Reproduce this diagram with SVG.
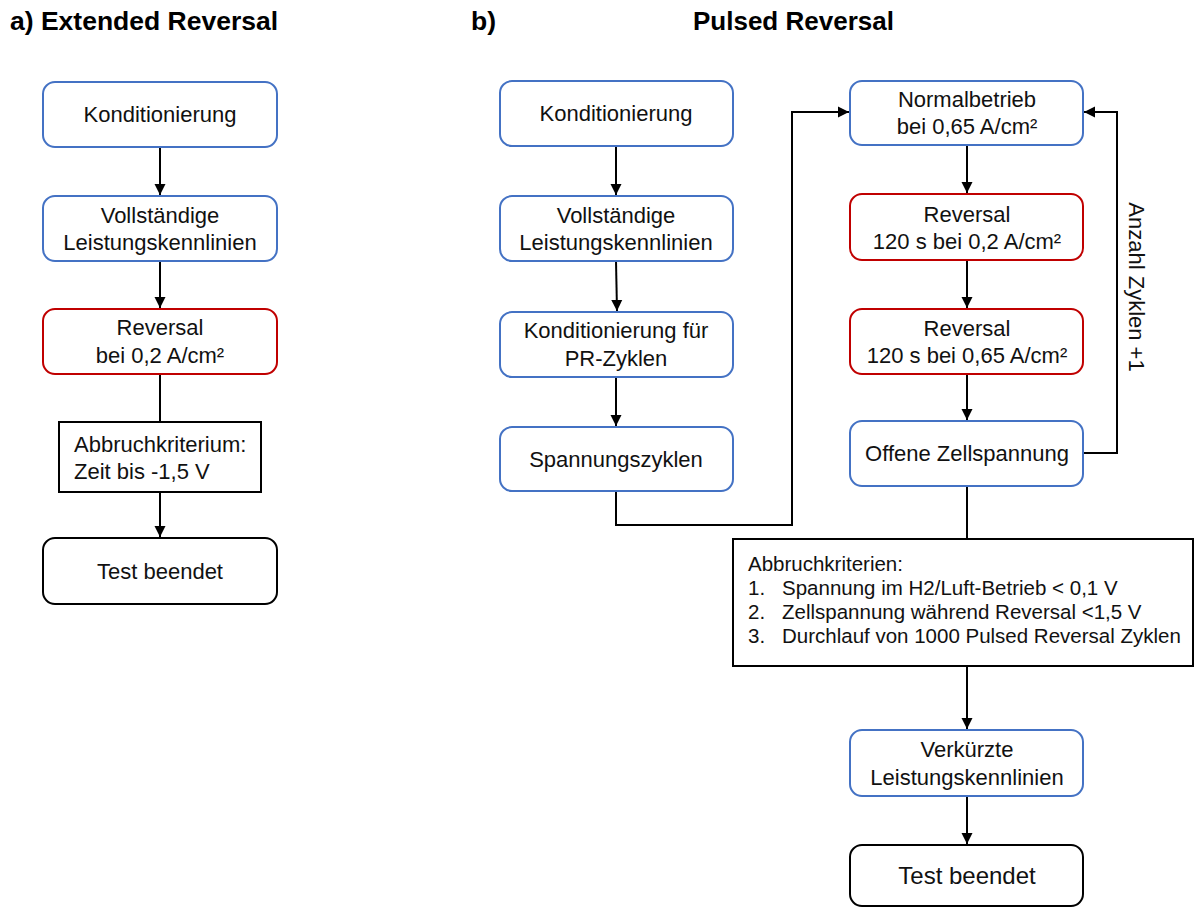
<svg xmlns="http://www.w3.org/2000/svg" width="1195" height="908" viewBox="0 0 1195 908">
<defs>
<marker id="arr" viewBox="0 0 10 10" refX="10" refY="5" markerWidth="11" markerHeight="12" markerUnits="userSpaceOnUse" orient="auto">
<path d="M0,0 L10,5 L0,10 z" fill="#000"/>
</marker>
<style>
.t{font-family:"Liberation Sans",Arial,sans-serif;font-size:22px;fill:#111;text-anchor:middle}
.l{font-family:"Liberation Sans",Arial,sans-serif;font-size:20.5px;fill:#111}
.h{font-family:"Liberation Sans",Arial,sans-serif;font-size:26.5px;font-weight:bold;fill:#000}
.blue{fill:#fff;stroke:#4472C4;stroke-width:2}
.red{fill:#fff;stroke:#C00000;stroke-width:2}
.blk{fill:#fff;stroke:#000;stroke-width:2}
.c{fill:none;stroke:#000;stroke-width:2}
</style>
</defs>
<rect width="1195" height="908" fill="#fff"/>
<text class="h" x="10" y="30">a) Extended Reversal</text>
<text class="h" x="471" y="30">b)</text>
<text class="h" x="693" y="30" style="font-size:26px">Pulsed Reversal</text>

<g id="connectors">
<line class="c" x1="160" y1="147" x2="160" y2="195" marker-end="url(#arr)"/>
<line class="c" x1="160" y1="261" x2="160" y2="308" marker-end="url(#arr)"/>
<line class="c" x1="160" y1="374" x2="160" y2="422"/>
<line class="c" x1="160" y1="492" x2="160" y2="537" marker-end="url(#arr)"/>
<line class="c" x1="616" y1="146" x2="616" y2="195" marker-end="url(#arr)"/>
<line class="c" x1="616" y1="261" x2="617" y2="311" marker-end="url(#arr)"/>
<line class="c" x1="616" y1="377" x2="616" y2="426" marker-end="url(#arr)"/>
<path class="c" d="M616,491 V525 H792 V112 H849" marker-end="url(#arr)"/>
<line class="c" x1="967" y1="145" x2="967" y2="193" marker-end="url(#arr)"/>
<line class="c" x1="967" y1="260" x2="967" y2="308" marker-end="url(#arr)"/>
<line class="c" x1="967" y1="374" x2="967" y2="420" marker-end="url(#arr)"/>
<path class="c" d="M1083,453 H1117 V112 H1084" marker-end="url(#arr)"/>
<line class="c" x1="967" y1="486" x2="967" y2="539"/>
<line class="c" x1="967" y1="666" x2="967" y2="729" marker-end="url(#arr)"/>
<line class="c" x1="967" y1="796" x2="967" y2="844" marker-end="url(#arr)"/>
<text class="t" transform="translate(1129,287) rotate(90)">Anzahl Zyklen +1</text>
</g>

<g id="a_kond"><rect class="blue" x="43" y="82" width="234" height="65" rx="12"/><text class="t" x="160" y="122">Konditionierung</text></g>
<g id="a_voll"><rect class="blue" x="43" y="196" width="234" height="65" rx="12"/><text class="t" x="160" y="223">Vollständige</text><text class="t" x="160" y="250">Leistungskennlinien</text></g>
<g id="a_rev"><rect class="red" x="43" y="309" width="234" height="65" rx="12"/><text class="t" x="160" y="335">Reversal</text><text class="t" x="160" y="363">bei 0,2 A/cm²</text></g>
<g id="a_abbr"><rect class="blk" x="59" y="422" width="202" height="70"/><text class="t" x="74" y="452" style="text-anchor:start">Abbruchkriterium:</text><text class="t" x="74" y="479" style="text-anchor:start">Zeit bis -1,5 V</text></g>
<g id="a_end"><rect class="blk" x="43" y="538" width="234" height="66" rx="12"/><text class="t" x="160" y="579">Test beendet</text></g>

<g id="b_kond"><rect class="blue" x="500" y="81" width="233" height="65" rx="12"/><text class="t" x="616" y="121">Konditionierung</text></g>
<g id="b_voll"><rect class="blue" x="500" y="196" width="233" height="65" rx="12"/><text class="t" x="616" y="223">Vollständige</text><text class="t" x="616" y="250">Leistungskennlinien</text></g>
<g id="b_kondpr"><rect class="blue" x="500" y="312" width="233" height="65" rx="12"/><text class="t" x="616" y="338">Konditionierung für</text><text class="t" x="616" y="366">PR-Zyklen</text></g>
<g id="b_spann"><rect class="blue" x="500" y="427" width="233" height="64" rx="12"/><text class="t" x="616" y="467">Spannungszyklen</text></g>

<g id="b_norm"><rect class="blue" x="850" y="81" width="233" height="64" rx="12"/><text class="t" x="967" y="107">Normalbetrieb</text><text class="t" x="967" y="134">bei 0,65 A/cm²</text></g>
<g id="b_rev1"><rect class="red" x="850" y="194" width="233" height="66" rx="12"/><text class="t" x="967" y="222">Reversal</text><text class="t" x="967" y="249">120 s bei 0,2 A/cm²</text></g>
<g id="b_rev2"><rect class="red" x="850" y="309" width="233" height="65" rx="12"/><text class="t" x="967" y="336">Reversal</text><text class="t" x="967" y="363">120 s bei 0,65 A/cm²</text></g>
<g id="b_ocv"><rect class="blue" x="850" y="421" width="233" height="65" rx="12"/><text class="t" x="967" y="461">Offene Zellspannung</text></g>
<g id="b_abbr"><rect class="blk" x="733" y="539" width="460" height="127"/>
<text class="l" x="748" y="571">Abbruchkriterien:</text>
<text class="l" x="748" y="595">1.</text><text class="l" x="782" y="595">Spannung im H2/Luft-Betrieb &lt; 0,1 V</text>
<text class="l" x="748" y="619">2.</text><text class="l" x="782" y="619">Zellspannung während Reversal &lt;1,5 V</text>
<text class="l" x="748" y="643">3.</text><text class="l" x="782" y="643">Durchlauf von 1000 Pulsed Reversal Zyklen</text>
</g>
<g id="b_verk"><rect class="blue" x="850" y="730" width="233" height="66" rx="12"/><text class="t" x="967" y="757">Verkürzte</text><text class="t" x="967" y="785">Leistungskennlinien</text></g>
<g id="b_end"><rect class="blk" x="850" y="845" width="233" height="61" rx="12"/><text class="t" x="967" y="884" style="font-size:24px">Test beendet</text></g>
</svg>
